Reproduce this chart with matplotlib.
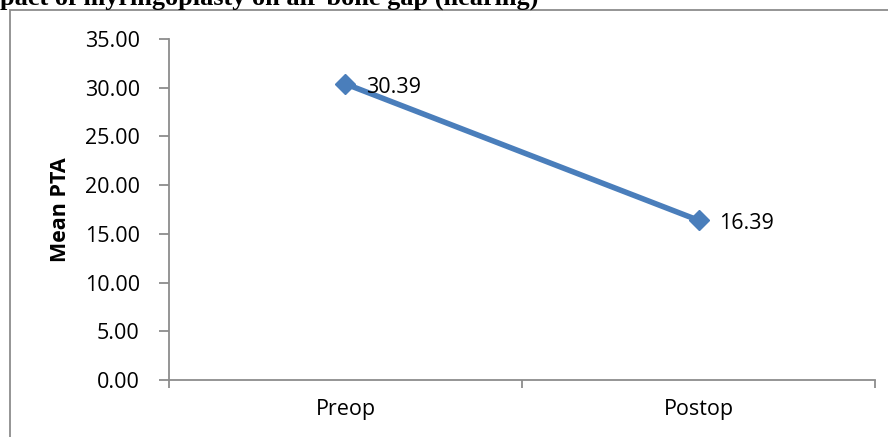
import matplotlib.pyplot as plt
from matplotlib.patches import Rectangle
from matplotlib.ticker import FixedLocator, NullFormatter

categories = ['Preop', 'Postop']
mean_pta = [30.39, 16.39]
y_ticks = [0, 5, 10, 15, 20, 25, 30, 35]

plt.rcParams['font.family'] = ['Open Sans', 'DejaVu Sans']

fig = plt.figure(figsize=(8.88, 4.37), dpi=100)
ax = fig.add_axes([0.1903, 0.1304, 0.7951, 0.7804])

# outer chart frame (only top and left visible)
fig.patches.append(Rectangle((10 / 888, -0.05), 1.1, (437 - 10) / 437 + 0.05,
                             transform=fig.transFigure, fill=False,
                             edgecolor='#8c8c8c', linewidth=1.3))

# title, cut off at the top and left edges like the reference
fig.text(0.0, 1 - 5 / 437, 'pact of myringoplasty on air-bone gap (hearing)',
         family='Liberation Serif', fontweight='bold', fontsize=18.9,
         ha='left', va='baseline')

x = [0.5, 1.5]
ax.plot(x, mean_pta, color='#4a7ebb', linewidth=4, marker='D',
        markersize=10, zorder=3, clip_on=False)
for xi, v in zip(x, mean_pta):
    ax.annotate(f'{v:.2f}', (xi, v), xytext=(15, -2.5), textcoords='offset points',
                fontsize=15.5, va='center', ha='left')

ax.set_xlim(0, 2)
ax.set_ylim(0, 35)
ax.set_yticks(y_ticks)
ax.set_yticklabels([f'{t:.2f}' for t in y_ticks], fontsize=15.5)
ax.xaxis.set_major_locator(FixedLocator([0, 1, 2]))
ax.xaxis.set_major_formatter(NullFormatter())
ax.xaxis.set_minor_locator(FixedLocator(x))
ax.set_xticklabels(categories, minor=True, fontsize=15.5)
ax.tick_params(axis='x', which='minor', length=0, pad=14)
ax.tick_params(axis='x', which='major', length=6, color='#8c8c8c', width=1.3)
ax.tick_params(axis='y', length=7, color='#8c8c8c', width=1.3, pad=14)

for s in ['top', 'right']:
    ax.spines[s].set_visible(False)
for s in ['left', 'bottom']:
    ax.spines[s].set_color('#8c8c8c')
    ax.spines[s].set_linewidth(1.3)

ax.set_ylabel('Mean PTA', fontsize=15.5, fontweight='bold', labelpad=10)

fig.savefig('out.png', dpi=100)
